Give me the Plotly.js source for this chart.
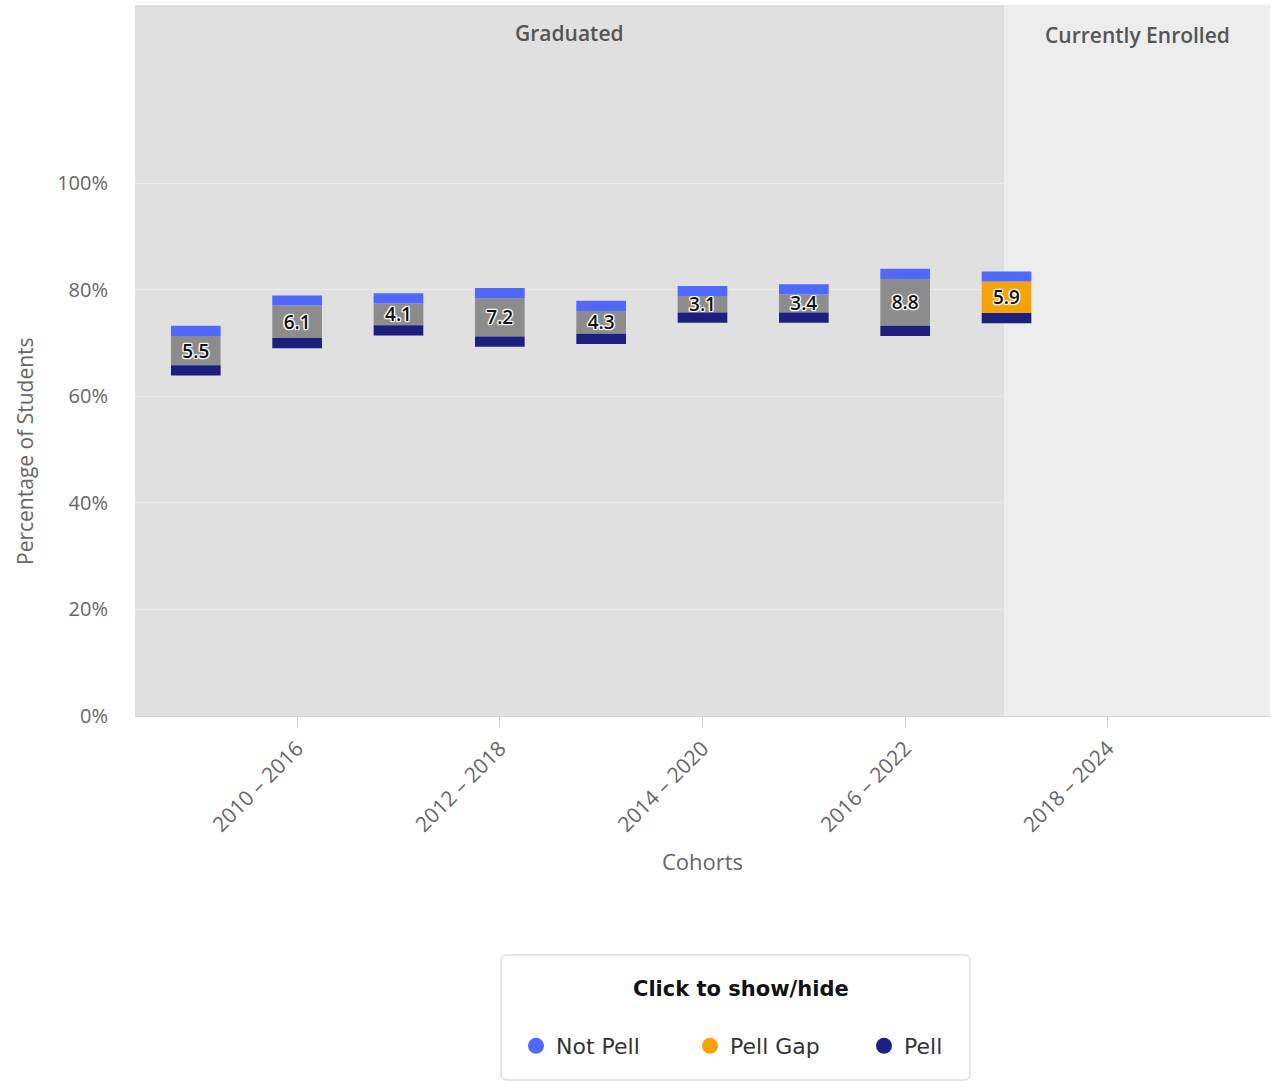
<!DOCTYPE html>
<html>
<head>
<meta charset="utf-8">
<script src="https://cdn.plot.ly/plotly-3.0.1.min.js"></script>
<style>
  html, body { margin: 0; padding: 0; background: #ffffff; }
  #chart { width: 1274px; height: 1081px; }
</style>
</head>
<body>
<div id="chart"></div>
<script>
// ---- data ----
const cohorts = ["2009 – 2015", "2010 – 2016", "2011 – 2017", "2012 – 2018", "2013 – 2019",
                 "2014 – 2020", "2015 – 2021", "2016 – 2022", "2017 – 2023", "2018 – 2024"];
const notPell = [71.3, 77.0, 77.4, 78.4, 76.0, 78.8, 79.1, 82.0, 81.5, null];
const pell    = [65.8, 70.9, 73.3, 71.2, 71.7, 75.7, 75.7, 73.2, 75.6, null];
const gapLabels = ["5.5", "6.1", "4.1", "7.2", "4.3", "3.1", "3.4", "8.8", "5.9", ""];
const status = ["Graduated", "Graduated", "Graduated", "Graduated", "Graduated",
                "Graduated", "Graduated", "Graduated", "Currently Enrolled", "Currently Enrolled"];
const tickLabels = ["2010 – 2016", "2012 – 2018", "2014 – 2020", "2016 – 2022", "2018 – 2024"];
const yTicks = [0, 20, 40, 60, 80, 100];
const bandNames = ["Graduated", "Currently Enrolled"];
const seriesNames = ["Not Pell", "Pell Gap", "Pell"];
const legendTitle = "Click to show/hide";
const xTitle = "Cohorts";
const yTitle = "Percentage of Students";

// ---- styles ----
const C_NOTPELL = "#5068fb";
const C_GAP = "#f8a20a";
const C_GAP_GRAD = "#8c8c8c";
const C_PELL = "#1c1f7e";
const THICK = 1.9;       // visual thickness (in % units) of the end caps
const BAR_W = 0.49;
const FONT = "Open Sans, sans-serif";
const LFONT = "DejaVu Sans, sans-serif";

const gapLen = notPell.map((v, i) => (v == null || pell[i] == null) ? null : v - pell[i]);
const gapColor = status.map(s => s === "Graduated" ? C_GAP_GRAD : C_GAP);
const capLen = notPell.map(v => v == null ? null : THICK);
const pellBase = pell.map(v => v == null ? null : v - THICK);

const traces = [
  {
    type: "bar", x: cohorts, y: gapLen, base: pell, width: BAR_W,
    marker: { color: gapColor, line: { width: 0 } },
    text: gapLabels, textposition: "inside", insidetextanchor: "middle",
    textangle: 0, constraintext: "none",
    textfont: { family: FONT, size: 19, color: "#111111", weight: 600,
                shadow: "1px 0 1px #fff, -1px 0 1px #fff, 0 1px 1px #fff, 0 -1px 1px #fff, 1px 1px 1px #fff, -1px -1px 1px #fff, 1px -1px 1px #fff, -1px 1px 1px #fff" },
    legendgroup: "gap", showlegend: false, hoverinfo: "skip"
  },
  {
    type: "bar", x: cohorts, y: capLen, base: notPell, width: BAR_W,
    marker: { color: C_NOTPELL, line: { width: 0 } },
    legendgroup: "notpell", showlegend: false, hoverinfo: "skip"
  },
  {
    type: "bar", x: cohorts, y: capLen, base: pellBase, width: BAR_W,
    marker: { color: C_PELL, line: { width: 0 } },
    legendgroup: "pell", showlegend: false, hoverinfo: "skip"
  },
  { type: "scatter", mode: "markers", x: [null], y: [null], name: seriesNames[0],
    marker: { color: C_NOTPELL, size: 22, symbol: "circle" }, legendgroup: "notpell" },
  { type: "scatter", mode: "markers", x: [null], y: [null], name: seriesNames[1],
    marker: { color: C_GAP, size: 22, symbol: "circle" }, legendgroup: "gap" },
  { type: "scatter", mode: "markers", x: [null], y: [null], name: seriesNames[2],
    marker: { color: C_PELL, size: 22, symbol: "circle" }, legendgroup: "pell" }
];

const X0 = -0.6, X1 = 10.6, XB = 7.98;

// legend frame (rounded rectangle in paper coordinates)
const PW = 1135, PH = 711;
const fx0 = (501 - 135) / PW, fx1 = (970 - 135) / PW;
const fy0 = (716 - 955) / PH, fy1 = (716 - 1080) / PH;
const rx = 6 / PW, ry = 6 / PH;
const framePath = `M ${fx0 + rx},${fy0} L ${fx1 - rx},${fy0} Q ${fx1},${fy0} ${fx1},${fy0 - ry} ` +
  `L ${fx1},${fy1 + ry} Q ${fx1},${fy1} ${fx1 - rx},${fy1} L ${fx0 + rx},${fy1} ` +
  `Q ${fx0},${fy1} ${fx0},${fy1 + ry} L ${fx0},${fy0 - ry} Q ${fx0},${fy0} ${fx0 + rx},${fy0} Z`;

const layout = {
  width: 1274, height: 1081,
  margin: { l: 135, r: 4, t: 5, b: 365 },
  paper_bgcolor: "#ffffff",
  plot_bgcolor: "#ffffff",
  barmode: "overlay",
  font: { family: FONT, color: "#666666" },
  showlegend: true,
  xaxis: {
    type: "category",
    categoryorder: "array", categoryarray: cohorts,
    range: [X0, X1],
    tickmode: "array", tickvals: tickLabels, ticktext: tickLabels,
    tickangle: -45,
    ticks: "outside", ticklen: 11, tickcolor: "#ccd6eb", tickwidth: 1,
    tickfont: { family: FONT, size: 21, color: "#666666" },
    showline: true, linecolor: "#ccd6eb", linewidth: 1,
    showgrid: false, zeroline: false,
    title: { text: xTitle, font: { family: FONT, size: 22, color: "#666666" }, standoff: 18 },
    fixedrange: true
  },
  yaxis: {
    range: [0, 133.4],
    tickmode: "array", tickvals: yTicks, ticktext: yTicks.map(v => v + "%"),
    tickfont: { family: FONT, size: 20, color: "#666666" },
    ticklabelstandoff: 26,
    showgrid: true, gridcolor: "#ebebeb", gridwidth: 1,
    zeroline: false, showline: false,
    fixedrange: true
  },
  shapes: [
    { type: "rect", xref: "x", yref: "paper", x0: X0, x1: XB, y0: 0, y1: 1,
      fillcolor: "#e0e0e0", line: { width: 0 }, layer: "below" },
    { type: "rect", xref: "x", yref: "paper", x0: XB, x1: X1, y0: 0, y1: 1,
      fillcolor: "#ededed", line: { width: 0 }, layer: "below" },
    { type: "path", xref: "paper", yref: "paper", path: framePath,
      fillcolor: "#ffffff", line: { color: "#cccccc", width: 1 }, layer: "below" }
  ],
  annotations: [
    { xref: "x", yref: "paper", x: (X0 + XB) / 2, y: 0.9606, text: bandNames[0],
      showarrow: false, xanchor: "center", yanchor: "middle",
      font: { family: FONT, size: 21, color: "#555555", weight: 600 } },
    { xref: "x", yref: "paper", x: (XB + X1) / 2, y: 0.958, text: bandNames[1],
      showarrow: false, xanchor: "center", yanchor: "middle",
      font: { family: FONT, size: 21, color: "#555555", weight: 600 } },
    { xref: "paper", yref: "paper", x: (25 - 135) / PW, y: (716 - 451) / PH, text: yTitle,
      textangle: -90, showarrow: false, xanchor: "center", yanchor: "middle",
      font: { family: FONT, size: 21, color: "#666666" } },
    { xref: "paper", yref: "paper", x: (741 - 135) / PW, y: (716 - 989) / PH, text: legendTitle,
      showarrow: false, xanchor: "center", yanchor: "middle",
      font: { family: LFONT, size: 21, color: "#111111", weight: "bold" } }
  ],
  legend: {
    orientation: "h",
    x: (537 - 21 - 135) / PW, xanchor: "left", xref: "paper",
    y: (716 - 1025) / PH, yanchor: "top", yref: "paper",
    bgcolor: "rgba(0,0,0,0)", borderwidth: 0,
    font: { family: LFONT, size: 22, color: "#333333" },
    itemsizing: "trace",
    entrywidth: 129,
    traceorder: "normal"
  }
};

Plotly.newPlot("chart", traces, layout, { displayModeBar: false });
</script>
</body>
</html>
